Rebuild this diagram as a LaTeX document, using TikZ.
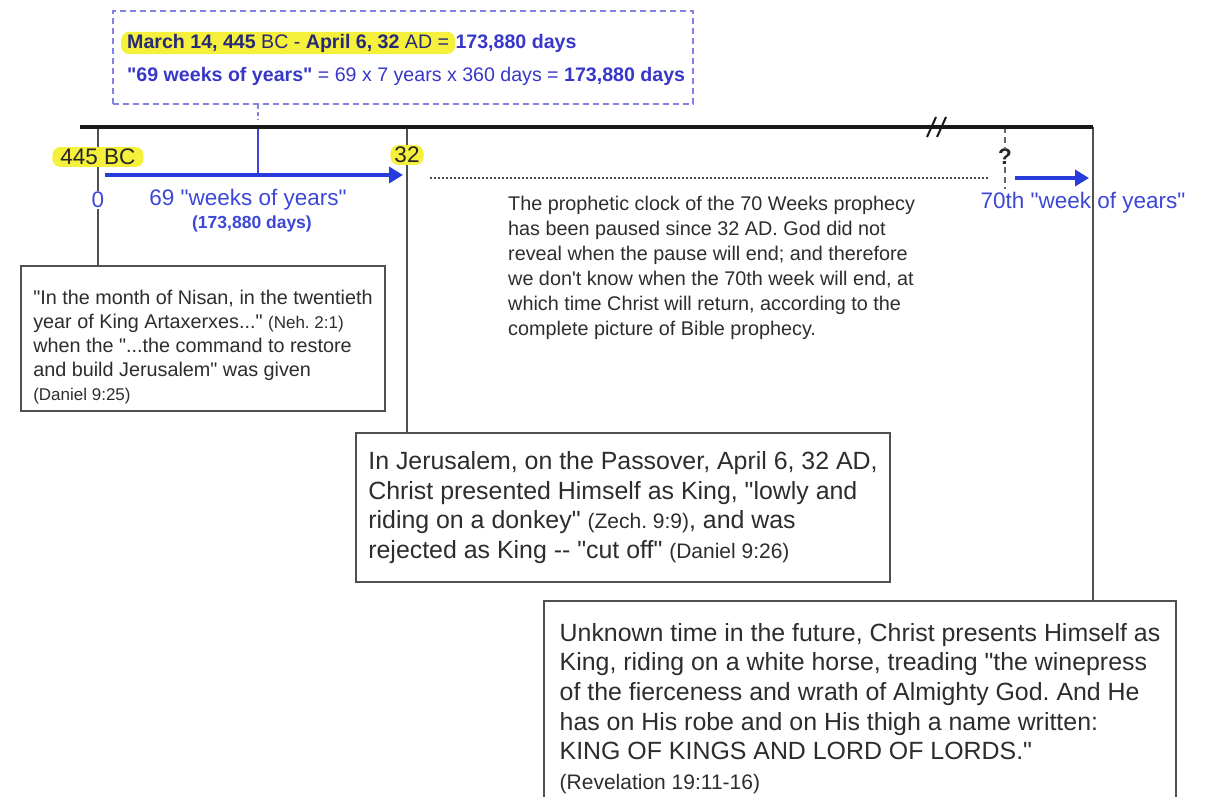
\documentclass[tikz,border=0pt]{standalone}
\usepackage{fontspec}
\setmainfont{Liberation Sans}[Ligatures=TeXOff]
\usepackage{xcolor}
\usepackage{tikz}
\usetikzlibrary{positioning, calc, arrows.meta, fit}
\frenchspacing
\definecolor{navytext}{RGB}{40,40,120}
\definecolor{sumblue}{RGB}{55,55,200}
\definecolor{labelblue}{RGB}{60,70,215}
\definecolor{arrowblue}{RGB}{40,60,220}
\definecolor{dashblue}{RGB}{130,130,230}
\definecolor{hiyellow}{RGB}{245,240,60}
\definecolor{linegray}{RGB}{80,80,80}
\definecolor{textgray}{RGB}{45,45,45}
\tikzset{
    notebox/.style={
        draw=linegray, line width=2pt, fill=white, anchor=north west,
        align=left, text=textgray, inner sep=0pt
    },
    hilite/.style={
        fill=hiyellow, rounded corners=8pt, inner xsep=8pt, inner ysep=2pt, text=black!85
    },
    bluelab/.style={
        text=labelblue, inner sep=1pt
    },
    bluearrow/.style={
        -{Triangle[length=14pt,width=16pt]}, line width=4pt, arrowblue
    },
    link/.style={
        draw=linegray, line width=1.5pt
    }
}
\newcommand{\fsnote}{\fontsize{19.8}{24}\selectfont}
\newcommand{\fsref}{\fontsize{17}{24}\selectfont}
\newcommand{\fsbody}{\fontsize{19.8}{25}\selectfont}
\newcommand{\fsbig}{\fontsize{24.9}{29.6}\selectfont}
\newcommand{\fsbigref}{\fontsize{21}{29.6}\selectfont}
\newcommand{\fssum}{\fontsize{19.6}{24}\selectfont}
\newcommand{\fslab}{\fontsize{22.5}{26}\selectfont}
\newcommand{\fsdays}{\fontsize{17.5}{20}\selectfont}

\begin{document}
\begin{tikzpicture}[
                x=1pt, y=-1pt,
                % --- STYLES ---
                % thick time axis
                axisline/.style={line width=4pt, black!90},
                % dashed box at the top
                sumbox/.style={draw=dashblue, line width=2pt, dash pattern=on 6pt off 4pt},
                sumtick/.style={draw=dashblue, line width=2pt, dash pattern=on 4pt off 3pt},
                bluelink/.style={draw=labelblue, line width=2pt},
                % the pause
                pausedots/.style={draw=black!70, line width=1.5pt, dash pattern=on 1.5pt off 2.5pt},
                qtick/.style={draw=black!60, line width=1.5pt, dash pattern=on 6pt off 4pt},
                breakmark/.style={draw=black!90, line width=2pt}
            ]
                \useasboundingbox (0,0) rectangle (1209,796);

                % --- SUM BOX ---
                \node[sumbox, minimum width=580pt, minimum height=93pt, anchor=north west] (sum) at (112,10) {};
                \node[hilite, anchor=base west, inner xsep=6pt, font=\fssum, text=navytext] (sumA) at (121,48)
                    {\textbf{March 14, 445} BC - \textbf{April 6, 32} AD =};
                \node[anchor=base west, inner sep=0pt, font=\fssum\bfseries, text=sumblue] (sumB) at (sumA.base east)
                    {173,880 days};
                \node[anchor=base west, inner sep=0pt, font=\fssum, text=sumblue] (sumC) at (127,81)
                    {\textbf{"69 weeks of years"} = 69 x 7 years x 360 days = \textbf{173,880 days}};

                % --- NOTE BOXES ---
                \node[notebox, minimum width=364pt, minimum height=145pt, font=\fsnote] (neh) at (20,265) {
                    \rule{0pt}{32pt}"In the month of Nisan, in the twentieth\\
                    year of King Artaxerxes..." {\fsref (Neh. 2:1)}\\
                    when the "...the command to restore\\
                    and build Jerusalem" was given\\
                    {\fsref (Daniel 9:25)}};
                \node[notebox, minimum width=534pt, minimum height=149pt, font=\fsbig] (jer) at (355,432) {
                    In Jerusalem, on the Passover, April 6, 32 AD,\\
                    Christ presented Himself as King, "lowly and\\
                    riding on a donkey" {\fsbigref (Zech. 9:9)}, and was\\
                    rejected as King -{}- "cut off" {\fsbigref (Daniel 9:26)}};
                \node[notebox, minimum width=632pt, minimum height=215pt, font=\fsbig] (fut) at (543,600) {
                    Unknown time in the future, Christ presents Himself as\\
                    King, riding on a white horse, treading "the winepress\\
                    of the fierceness and wrath of Almighty God. And He\\
                    has on His robe and on His thigh a name written:\\
                    KING OF KINGS AND LORD OF LORDS."\\
                    {\fsbigref (Revelation 19:11-16)}};
                % text of the pause (no box)
                \node[anchor=north west, align=left, inner sep=0pt, text=textgray, font=\fsbody] (pause) at (508,196) {
                    The prophetic clock of the 70 Weeks prophecy\\
                    has been paused since 32 AD. God did not\\
                    reveal when the pause will end; and therefore\\
                    we don't know when the 70th week will end, at\\
                    which time Christ will return, according to the\\
                    complete picture of Bible prophecy.};

                % --- TIME AXIS ---
                \coordinate (axL) at (80,127);
                \coordinate (axR) at (1093,127);
                \coordinate (t0) at (98,127);
                \coordinate (t32) at (407,127);
                \coordinate (tq) at (1005,127);
                \coordinate (brk) at (936,127);
                \coordinate (c69) at (258,175);

                \draw[sumtick] (sum.south -| c69) -- ++(0,15);
                \draw[bluelink] (c69 |- axL) -- (c69);
                \draw[link] (t0) -- (t0 |- neh.north);
                \draw[link] (t32) -- (t32 |- jer.north);
                \draw[link] (axR) -- (axR |- fut.north);
                \draw[qtick] (tq) -- ++(0,62);
                \draw[axisline] (axL) -- (axR);
                \draw[breakmark] (brk) ++(-9,10) -- ++(9,-20) (brk) ++(1,10) -- ++(9,-20);

                % --- ARROWS ---
                \coordinate (a0) at (105,175);
                \coordinate (a1) at (403,175);
                \coordinate (p0) at (430,178);
                \coordinate (p1) at (990,178);
                \coordinate (w0) at (1015,178);
                \coordinate (w1) at (1089,178);
                \draw[bluearrow] (a0) -- (a1);
                \draw[pausedots] (p0) -- (p1);
                \draw[bluearrow] (w0) -- (w1);

                % --- LABELS ---
                \node[hilite, font=\fslab] (bc) at (98,157) {445 BC};
                \node[hilite, font=\fslab, inner xsep=4pt] (n32) at (407,155) {32};
                \node[bluelab, fill=white, font=\fslab] (zero) at (98,200) {0};
                \node[fill=white, inner sep=1pt, font=\fslab\bfseries, text=black!85] (q) at (1005,157) {?};
                \node[bluelab, font=\fslab] (wk69) at (248,200) {69 "weeks of years"};
                \node[bluelab, font=\fsdays\bfseries] (days) at (252,224) {(173,880 days)};
                \node[bluelab, font=\fslab] (wk70) at (1083,203) {70th "week of years"};

            \end{tikzpicture}
\end{document}
